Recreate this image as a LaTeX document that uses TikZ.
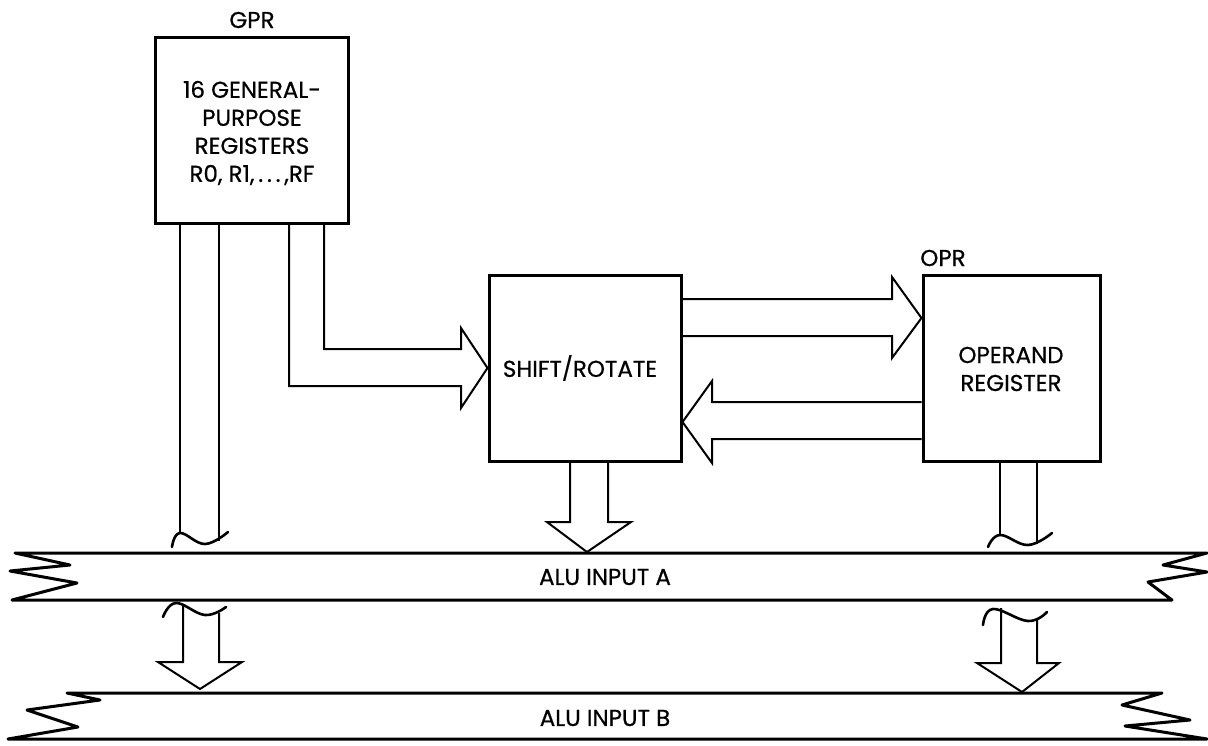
\documentclass[tikz,border=0pt]{standalone}
\usepackage{fontspec}
\setmainfont{Poppins}[FakeBold=0.6]
\begin{document}
\begin{tikzpicture}[x=1pt,y=-1pt,
  box/.style={draw,line width=3pt,minimum width=#1,inner sep=0pt},
  fat/.style={draw,line width=2pt,line join=miter},
  stub/.style={draw,line width=2.2pt},
  tildeline/.style={draw,line width=2.6pt,line cap=round},
  bus/.style={draw,line width=3pt,line join=round,line cap=round},
  lbl/.style={font=\fontsize{23}{28}\selectfont,inner sep=0pt,align=center}]
\useasboundingbox (0,0) rectangle (1208,745);
% boxes
\node[box=193pt,minimum height=186pt] (gpr) at (251.5,130) {};
\node[box=192pt,minimum height=186pt] (shift) at (585,368) {};
\node[box=177pt,minimum height=186pt] (opr) at (1011.5,368) {};
\node[lbl] (gprtext) at (252,133) {16 GENERAL-\\PURPOSE\\REGISTERS\\R0, R1,\,.\,.\,.\,,RF};
\node[lbl] (gprlbl) at (252,20) {GPR};
\node[lbl] (oprlbl) at (943,258) {OPR};
\node[lbl] (shifttext) at (580,368) {SHIFT/ROTATE};
\node[lbl] (oprtext) at (1011,369) {OPERAND\\REGISTER};
% buses
\node[lbl] (busa) at (605,577) {ALU INPUT A};
\node[lbl] (busb) at (605,718) {ALU INPUT B};
\draw[bus] (1207,553) -- (15,553) -- (70,565) -- (10,571) -- (77,583) -- (12,600) -- (1172,600) -- (1148,582) -- (1207,572) -- (1163,565) -- cycle;
\draw[bus] (1162,693) -- (67,693) -- (100,700) -- (27,710) -- (78,727) -- (8,739) -- (1207,739) -- (1125,726) -- (1190,720) -- (1122,705) -- cycle;
% GPR -> shift
\draw[fat] (289,223) -- (289,386) -- (461,386) -- (461,408) -- (shift.west) -- (461,328) -- (461,349) -- (324,349) -- (324,223);
% shift -> opr
\draw[fat] (shift.east |- 0,299) -- (892,299) -- (892,277) -- (opr.west |- 0,318) -- (892,358) -- (892,336) -- (shift.east |- 0,336);
% opr -> shift
\draw[fat] (opr.west |- 0,402) -- (712,402) -- (712,381) -- (shift.east |- 0,422) -- (712,463) -- (712,439) -- (opr.west |- 0,439);
% shift down to bus A
\draw[fat] (570,461) -- (570,522) -- (547,522) -- (587,552) -- (631,522) -- (608,522) -- (608,461);
% GPR stub into bus A
\draw[stub] (180,223) -- (180,534);
\draw[stub] (219,223) -- (219,541);
\draw[tildeline] plot[smooth,tension=0.7] coordinates {(172,547) (180,533) (205,544) (228,532)};
% OPR stub into bus A
\draw[stub] (1000,461) -- (1000,536);
\draw[stub] (1037,461) -- (1037,544);
\draw[tildeline] plot[smooth,tension=0.7] coordinates {(988,547) (1000,535) (1028,545) (1052,533)};
% bus A -> bus B, left
\draw[tildeline] plot[smooth,tension=0.7] coordinates {(163,617) (176,603) (205,615) (226,607)};
\draw[fat] (183,605) -- (183,662) -- (158,662) -- (200,689) -- (242,662) -- (219,662) -- (219,613);
% bus A -> bus B, right
\draw[tildeline] plot[smooth,tension=0.7] coordinates {(983,625) (993,609) (1028,621) (1047,612)};
\draw[fat] (1001,608) -- (1001,663) -- (977,663) -- (1022,692) -- (1059,663) -- (1037,663) -- (1037,619);
\end{tikzpicture}
\end{document}
